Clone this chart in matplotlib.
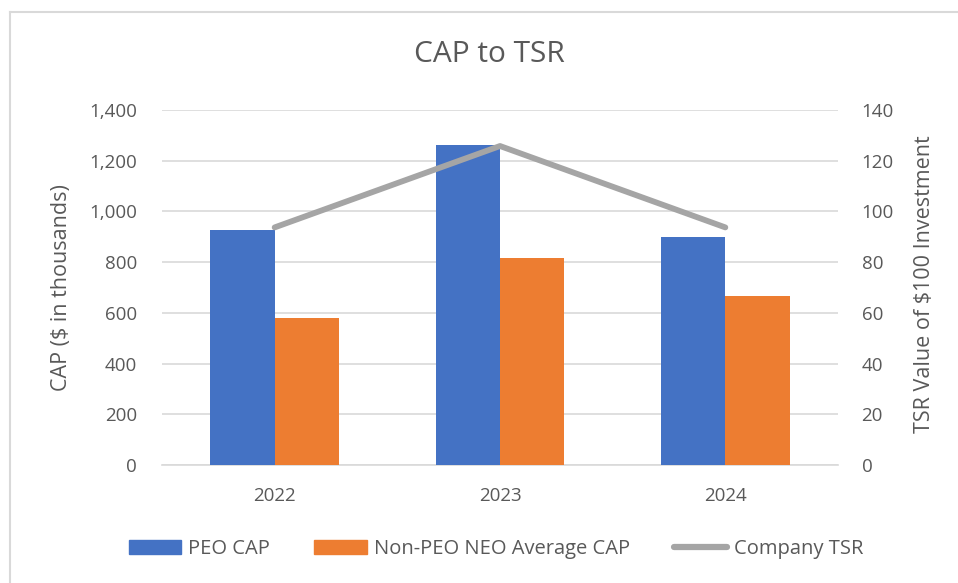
import matplotlib
matplotlib.use("Agg")
import matplotlib.pyplot as plt
import numpy as np
from matplotlib.lines import Line2D

years = ["2022", "2023", "2024"]
peo_cap = [927, 1262, 900]
non_peo_cap = [581, 815, 668]
company_tsr = [93.7, 125.8, 93.7]

left_ticks = [0, 200, 400, 600, 800, 1000, 1200, 1400]
right_ticks = [0, 20, 40, 60, 80, 100, 120, 140]

plt.rcParams['font.family'] = ['Open Sans', 'DejaVu Sans']
txt = '#595959'
blue = '#4472C4'
orange = '#ED7D31'
gray = '#A5A5A5'

fig = plt.figure(figsize=(9.58, 5.83), dpi=100)
ax = fig.add_axes([162/958, 1-465/583, (838-162)/958, (465-110)/583])
x = np.arange(len(years))
w = 0.285
ax.bar(x - w/2, peo_cap, w, color=blue, zorder=3)
ax.bar(x + w/2, non_peo_cap, w, color=orange, zorder=3)
ax.set_xlim(-0.5, 2.5)
ax.set_ylim(0, 1400)
ax.set_yticks(left_ticks)
ax.set_yticklabels([f"{v:,}" for v in left_ticks])
ax.set_xticks(x)
ax.set_xticklabels(years)
ax.grid(axis='y', color='#D9D9D9', linewidth=1.2, zorder=0)
for s in ax.spines.values():
    s.set_visible(False)
ax.spines['bottom'].set_visible(True)
ax.spines['bottom'].set_color('#D9D9D9')
ax.spines['bottom'].set_linewidth(1.2)
ax.tick_params(axis='y', length=0, labelsize=13.5, colors=txt, pad=18)
ax.tick_params(axis='x', length=0, labelsize=13.5, colors=txt, pad=16)

ax2 = ax.twinx()
ax2.plot(x, company_tsr, color=gray, linewidth=4.2, solid_capstyle='round', zorder=4)
ax2.set_ylim(0, 140)
ax2.set_yticks(right_ticks)
for s in ax2.spines.values():
    s.set_visible(False)
ax2.tick_params(axis='y', length=0, labelsize=13.5, colors=txt, pad=17)

fig.text(61/958, 1-288/583, "CAP ($ in thousands)", rotation=90, ha='center', va='center',
         fontsize=15.5, color=txt)
fig.text(924/958, 1-284/583, "TSR Value of $100 Investment", rotation=90, ha='center', va='center',
         fontsize=15.5, color=txt)

fig.text(489/958, 1-55/583, "CAP to TSR", ha='center', va='center', fontsize=21.5, color=txt)

handles = [plt.Rectangle((0, 0), 1, 1, color=blue),
           plt.Rectangle((0, 0), 1, 1, color=orange),
           Line2D([0], [0], color=gray, linewidth=4.5, solid_capstyle='round')]
leg = fig.legend(handles, ["PEO CAP", "Non-PEO NEO Average CAP", "Company TSR"],
                 loc='center', bbox_to_anchor=(496/958, 1-549/583), ncol=3, frameon=False,
                 fontsize=14.5, labelcolor=txt, handlelength=2.6, handleheight=0.7,
                 columnspacing=2.2, handletextpad=0.35)

fig.add_artist(Line2D([10/958, 10/958], [0, 1-12/583], color='#D9D9D9', linewidth=1.5, transform=fig.transFigure))
fig.add_artist(Line2D([10/958, 1], [1-12/583, 1-12/583], color='#D9D9D9', linewidth=1.5, transform=fig.transFigure))

fig.savefig("out.png", dpi=100)
